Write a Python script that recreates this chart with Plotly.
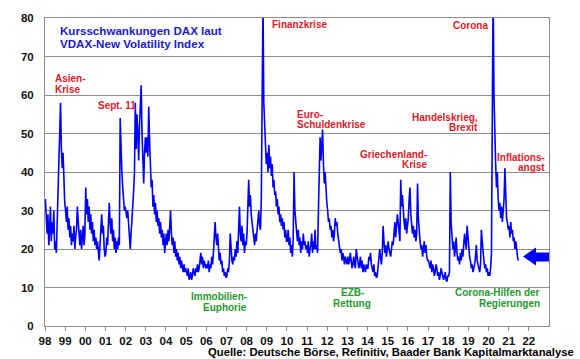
import plotly.graph_objects as go

# Semi-monthly readings of the VDAX-New (24 per year, 2021 up to mid-year)
v1998 = [33, 26, 24, 29, 21, 25, 31, 22, 27, 24, 30, 20, 22, 19, 27, 36, 42, 48, 58, 46, 41, 45, 37, 32]
v1999 = [30, 27, 31, 25, 28, 23, 26, 21, 24, 22, 26, 20, 23, 25, 31, 26, 24, 21, 25, 20, 23, 26, 21, 24]
v2000 = [36, 29, 33, 27, 31, 25, 29, 24, 27, 22, 25, 21, 23, 20, 22, 19, 17, 21, 26, 29, 24, 26, 20, 18]
v2001 = [19, 23, 21, 26, 32, 27, 24, 28, 22, 25, 20, 23, 19, 22, 20, 23, 21, 54, 45, 40, 36, 33, 30, 31]
v2002 = [29, 28, 30, 27, 22, 20, 24, 27, 31, 35, 40, 58, 46, 55, 50, 43, 52, 56, 62.5, 50, 40, 37, 45, 49]
v2003 = [45, 49, 44, 57, 48, 42, 36, 38, 31, 34, 29, 32, 27, 30, 26, 28, 24, 27, 23, 25, 21, 24, 19, 22]
v2004 = [24, 21, 25, 22, 27, 30, 24, 21, 23, 19, 22, 18, 20, 17, 19, 16, 18, 15, 17, 15, 14, 16, 14, 15]
v2005 = [14, 13, 15, 12, 13, 14, 12, 13, 15, 14, 13, 15, 14, 16, 14, 15, 17, 19, 16, 18, 15, 17, 16, 15]
v2006 = [16, 15, 17, 14, 16, 15, 18, 16, 19, 22, 27, 23, 21, 24, 19, 17, 19, 16, 17, 14, 15, 13, 14, 12.5]
v2007 = [13, 15, 14, 17, 24, 19, 17, 16, 18, 17, 20, 18, 22, 19, 25, 31, 24, 22, 26, 21, 24, 19, 22, 21]
v2008 = [24, 32, 38, 31, 34, 29, 27, 24, 22, 21, 24, 22, 25, 27, 30, 26, 25, 33, 75, 84, 58, 50, 47, 42]
v2009 = [45, 40, 47, 41, 44, 39, 42, 36, 38, 34, 35, 31, 33, 29, 31, 27, 29, 26, 28, 25, 27, 23, 25, 22]
v2010 = [22, 25, 21, 23, 19, 21, 18, 23, 40, 30, 27, 24, 22, 25, 21, 23, 19, 22, 20, 24, 21, 22, 20, 21]
v2011 = [19, 22, 18, 20, 21, 24, 19, 22, 20, 25, 20, 21, 19, 30, 46, 49, 43, 47, 51, 42, 37, 40, 34, 32]
v2012 = [30, 27, 28, 25, 26, 23, 25, 22, 24, 28, 26, 27, 24, 22, 21, 19, 20, 17, 19, 18, 16, 18, 17, 16]
v2013 = [18, 16, 17, 19, 17, 15, 16, 18, 16, 15, 20, 18, 17, 15, 16, 18, 15, 17, 14, 16, 15, 14, 16, 15]
v2014 = [15, 18, 17, 19, 16, 15, 14, 16, 13, 14, 12.5, 13, 15, 17, 20, 18, 16, 19, 26, 22, 19, 21, 18, 20]
v2015 = [22, 20, 19, 18, 20, 22, 21, 25, 27, 23, 26, 29, 27, 24, 22, 38, 31, 34, 29, 27, 25, 28, 24, 26]
v2016 = [28, 33, 36, 29, 27, 24, 26, 23, 25, 22, 24, 37, 28, 24, 22, 20, 21, 18, 20, 22, 19, 21, 18, 17]
v2017 = [17, 16, 15, 17, 14, 16, 15, 13, 14, 16, 15, 13, 14, 12, 13, 15, 14, 13, 12, 13, 14, 12, 11.5, 13]
v2018 = [13, 14, 40, 27, 23, 20, 22, 18, 20, 23, 19, 17, 18, 16, 19, 17, 20, 18, 21, 24, 22, 20, 26, 23]
v2019 = [21, 18, 17, 15, 16, 14, 15, 16, 18, 21, 17, 16, 15, 14, 16, 25, 22, 18, 17, 15, 16, 14, 15, 13]
v2020 = [14, 13, 15, 19, 58, 88, 60, 48, 42, 36, 40, 33, 30, 32, 28, 31, 27, 30, 33, 41, 34, 28, 27, 25]
v2021 = [26, 23, 27, 24, 25, 22, 23, 20, 22, 19, 18, 17]

series_by_year = [
    (1998, v1998), (1999, v1999), (2000, v2000), (2001, v2001), (2002, v2002),
    (2003, v2003), (2004, v2004), (2005, v2005), (2006, v2006), (2007, v2007),
    (2008, v2008), (2009, v2009), (2010, v2010), (2011, v2011), (2012, v2012),
    (2013, v2013), (2014, v2014), (2015, v2015), (2016, v2016), (2017, v2017),
    (2018, v2018), (2019, v2019), (2020, v2020), (2021, v2021),
]

tick_years = list(range(1998, 2023))
tick_labels = ["98", "99", "00", "01", "02", "03", "04", "05", "06", "07", "08", "09",
               "10", "11", "12", "13", "14", "15", "16", "17", "18", "19", "20", "21", "22"]
y_ticks = [0, 10, 20, 30, 40, 50, 60, 70, 80]
current_level = 18

xs, ys = [], []
for yr, vals in series_by_year:
    n = 24
    for i, v in enumerate(vals):
        xs.append(yr + (i + 0.5) / n)
        ys.append(v)

BLUE = "#0000ff"
RED = "#e0182a"
GREEN = "#1f9a2e"
GRID = "#8c8c8c"
FONT = "Liberation Sans"

W, H = 580, 359
L, R, T, B = 45, 31, 16, 33
PW, PH = W - L - R, H - T - B


def px(xp):
    return (xp - L) / PW


def py(yp):
    return (H - B - yp) / PH


fig = go.Figure()
fig.add_trace(go.Scatter(x=xs, y=ys, mode="lines",
                         line=dict(color=BLUE, width=1.6), hoverinfo="skip"))

annotations = []


def ann(text, x, y, color, size=10, anchor="left"):
    annotations.append(dict(
        text="<b>" + text + "</b>", x=px(x), y=py(y), xref="paper", yref="paper",
        xanchor=anchor, yanchor="middle", showarrow=False,
        font=dict(family=FONT, size=size, color=color)))


ann("Kursschwankungen DAX laut", 58, 29, "#1a1ad0", 11.6)
ann("VDAX-New Volatility Index", 58, 42, "#1a1ad0", 11.6)
ann("Asien-", 53, 77, RED)
ann("Krise", 53, 88, RED)
ann("Sept. 11", 96, 104, RED)
ann("Finanzkrise", 270, 23, RED)
ann("Corona", 490, 24, RED, anchor="right")
ann("Euro-", 295, 113, RED)
ann("Schuldenkrise", 295, 123, RED)
ann("Handelskrieg,", 480, 116, RED, anchor="right")
ann("Brexit", 480, 126, RED, anchor="right")
ann("Griechenland-", 429, 153, RED, anchor="right")
ann("Krise", 429, 163, RED, anchor="right")
ann("Inflations-", 547, 156, RED, anchor="right")
ann("angst", 547, 166, RED, anchor="right")
ann("Immobilien-", 249, 296, GREEN, anchor="right")
ann("Euphorie", 249, 307, GREEN, anchor="right")
ann("EZB-", 352, 292, GREEN, anchor="center")
ann("Rettung", 352, 303, GREEN, anchor="center")
ann("Corona-Hilfen der", 542, 292, GREEN, anchor="right")
ann("Regierungen", 542, 303, GREEN, anchor="right")
ann("Quelle: Deutsche Börse, Refinitiv, Baader Bank Kapitalmarktanalyse", 576, 352,
    "#000000", 11.3, anchor="right")

# Arrow marking the current level (pointing left at the right edge)
arrow_pts = [(523, 256), (536, 247), (536, 252), (549, 252), (549, 261), (536, 261), (536, 265)]
path = "M " + " L ".join(f"{px(a):.4f},{py(b):.4f}" for a, b in arrow_pts) + " Z"

fig.update_layout(
    width=W, height=H,
    margin=dict(l=L, r=R, t=T, b=B, pad=0),
    paper_bgcolor="white", plot_bgcolor="white",
    showlegend=False,
    annotations=annotations,
    shapes=[dict(type="path", path=path, xref="paper", yref="paper",
                 fillcolor=BLUE, line=dict(width=0))],
    xaxis=dict(range=[1998, 2023], tickvals=tick_years,
               ticktext=["<b>" + t + "</b>" for t in tick_labels],
               tickfont=dict(family=FONT, size=11.5, color="#111111"),
               ticks="outside", ticklen=4, tickcolor=GRID, tickwidth=1,
               showgrid=False, zeroline=False, showline=True, linecolor=GRID,
               linewidth=1, mirror=True, fixedrange=True),
    yaxis=dict(range=[0, 80], tickvals=y_ticks,
               ticktext=["<b>" + str(t) + "</b>" for t in y_ticks],
               tickfont=dict(family=FONT, size=11.5, color="#111111"),
               ticks="", showgrid=True, gridcolor=GRID, gridwidth=1,
               zeroline=False, showline=True, linecolor=GRID, linewidth=1,
               mirror=True, ticklabelstandoff=8, fixedrange=True),
)

fig.write_html("out.html", config={"displayModeBar": False},
               post_script="document.body.style.margin='0';document.body.style.overflow='hidden';")
